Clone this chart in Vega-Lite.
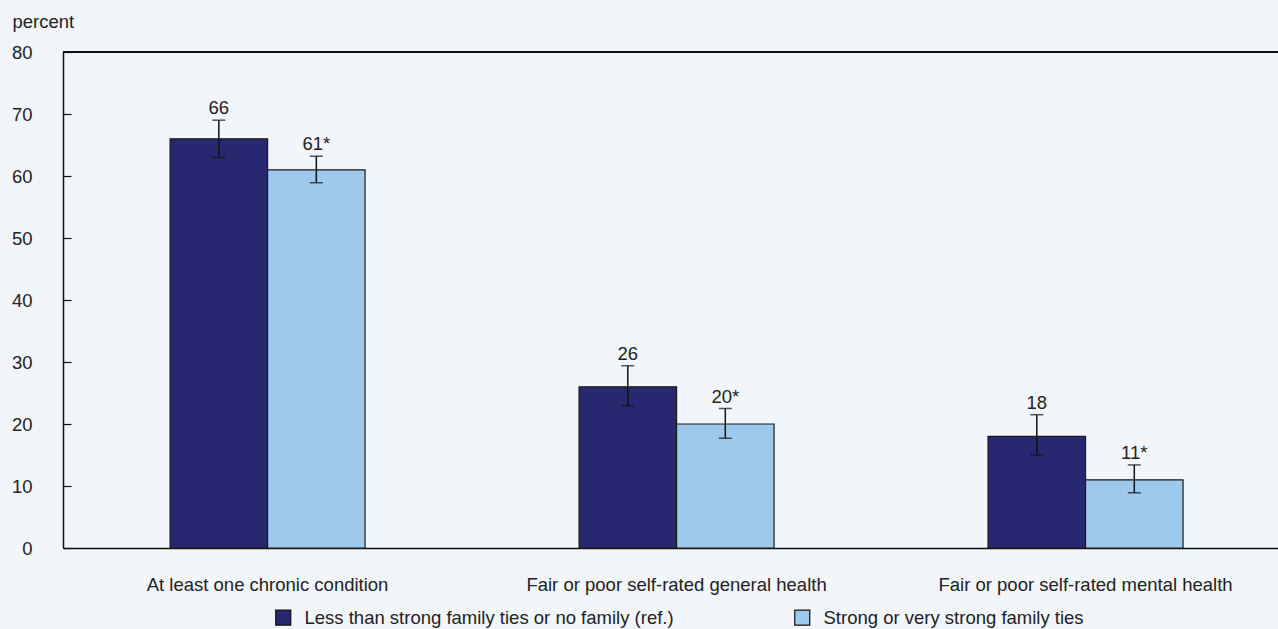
{
  "$schema": "https://vega.github.io/schema/vega-lite/v6.json",
  "width": 1215,
  "height": 496,
  "autosize": {"type": "none"},
  "padding": {"left": 63, "top": 52, "right": 0, "bottom": 81},
  "background": "#f2f5fa",
  "config": {
    "view": {"stroke": null},
    "font": "Liberation Sans",
    "text": {"font": "Liberation Sans"}
  },
  "data": {
    "values": [
      {"measure": "At least one chronic condition", "group": "Less than strong family ties or no family (ref.)", "value": 66, "lower": 63, "upper": 69, "label": "66"},
      {"measure": "At least one chronic condition", "group": "Strong or very strong family ties", "value": 61, "lower": 58.9, "upper": 63.2, "label": "61*"},
      {"measure": "Fair or poor self-rated general health", "group": "Less than strong family ties or no family (ref.)", "value": 26, "lower": 22.9, "upper": 29.4, "label": "26"},
      {"measure": "Fair or poor self-rated general health", "group": "Strong or very strong family ties", "value": 20, "lower": 17.7, "upper": 22.5, "label": "20*"},
      {"measure": "Fair or poor self-rated mental health", "group": "Less than strong family ties or no family (ref.)", "value": 18, "lower": 15, "upper": 21.5, "label": "18"},
      {"measure": "Fair or poor self-rated mental health", "group": "Strong or very strong family ties", "value": 11, "lower": 8.9, "upper": 13.4, "label": "11*"}
    ]
  },
  "encoding": {
    "x": {
      "field": "measure",
      "type": "nominal",
      "sort": null,
      "scale": {"paddingInner": 0.5232, "paddingOuter": 0.247, "align": 0.53},
      "axis": {
        "title": null,
        "labelAngle": 0,
        "labelFont": "Liberation Sans",
        "labelFontSize": 18.5,
        "labelColor": "#222222",
        "labelBaseline": "alphabetic",
        "labelPadding": 42,
        "labelLimit": 500,
        "ticks": false,
        "domainColor": "#111111",
        "domainWidth": 1.5
      }
    },
    "xOffset": {
      "field": "group",
      "type": "nominal",
      "sort": null,
      "scale": {"paddingInner": 0, "paddingOuter": 0}
    }
  },
  "layer": [
    {
      "mark": {"type": "rule", "color": "#111111", "strokeWidth": 1.5},
      "encoding": {"y": {"datum": 80, "type": "quantitative"}, "x": null, "xOffset": null}
    },
    {
      "mark": {"type": "bar", "stroke": "#1a1a1a", "strokeWidth": 1.2},
      "encoding": {
        "y": {
          "field": "value",
          "type": "quantitative",
          "scale": {"domain": [0, 80], "nice": false},
          "axis": {
            "title": "percent",
            "titleAngle": 0,
            "titleAlign": "left",
            "titleBaseline": "alphabetic",
            "titleX": -51,
            "titleY": -25,
            "titleFont": "Liberation Sans",
            "titleFontSize": 18.5,
            "titleFontWeight": "normal",
            "titleColor": "#222222",
            "values": [0, 10, 20, 30, 40, 50, 60, 70, 80],
            "grid": false,
            "labelFont": "Liberation Sans",
            "labelFontSize": 18.5,
            "labelColor": "#222222",
            "labelPadding": 39,
            "labelBaseline": "middle",
            "tickSize": -8,
            "tickColor": "#111111",
            "tickWidth": 1.2,
            "domainColor": "#111111",
            "domainWidth": 1.5
          }
        },
        "color": {
          "field": "group",
          "type": "nominal",
          "sort": null,
          "scale": {
            "domain": ["Less than strong family ties or no family (ref.)", "Strong or very strong family ties"],
            "range": ["#27286f", "#9fc9ea"]
          },
          "legend": {
            "title": null,
            "orient": "none",
            "legendX": 211,
            "legendY": 556,
            "direction": "horizontal",
            "columns": 2,
            "gridAlign": "each",
            "columnPadding": 118,
            "padding": 0,
            "symbolType": "square",
            "symbolSize": 225,
            "symbolStrokeColor": "#111111",
            "symbolStrokeWidth": 1.2,
            "labelFont": "Liberation Sans",
            "labelFontSize": 18.5,
            "labelColor": "#222222",
            "labelOffset": 12,
            "labelLimit": 600
          }
        }
      }
    },
    {
      "mark": {"type": "rule", "color": "#111111", "strokeWidth": 1.5},
      "encoding": {
        "y": {"field": "lower", "type": "quantitative"},
        "y2": {"field": "upper"}
      }
    },
    {
      "mark": {"type": "tick", "color": "#111111", "size": 13, "thickness": 1.5},
      "encoding": {"y": {"field": "lower", "type": "quantitative"}}
    },
    {
      "mark": {"type": "tick", "color": "#111111", "size": 13, "thickness": 1.5},
      "encoding": {"y": {"field": "upper", "type": "quantitative"}}
    },
    {
      "mark": {"type": "text", "baseline": "alphabetic", "dy": -6, "fontSize": 18.5, "color": "#222222"},
      "encoding": {
        "y": {"field": "upper", "type": "quantitative"},
        "text": {"field": "label"}
      }
    }
  ]
}
